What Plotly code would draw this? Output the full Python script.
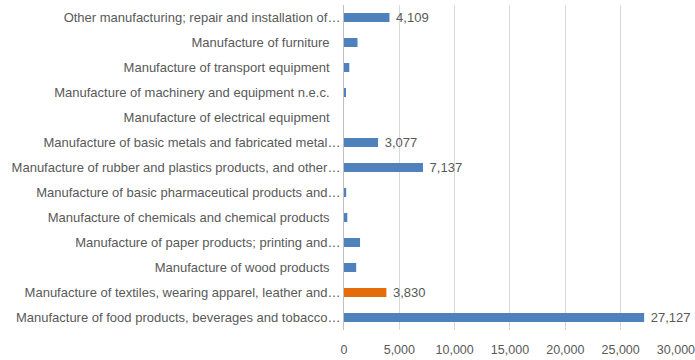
import plotly.graph_objects as go

categories = [
    "Manufacture of food products, beverages and tobacco…",
    "Manufacture of textiles, wearing apparel, leather and…",
    "Manufacture of wood products\u00a0\u00a0\u00a0",
    "Manufacture of paper products; printing and…",
    "Manufacture of chemicals and chemical products\u00a0\u00a0\u00a0",
    "Manufacture of basic pharmaceutical products and…",
    "Manufacture of rubber and plastics products, and other…",
    "Manufacture of basic metals and fabricated metal…",
    "Manufacture of electrical equipment\u00a0\u00a0\u00a0",
    "Manufacture of machinery and equipment n.e.c.\u00a0\u00a0\u00a0",
    "Manufacture of transport equipment\u00a0\u00a0\u00a0",
    "Manufacture of furniture\u00a0\u00a0\u00a0",
    "Other manufacturing; repair and installation of…",
]
values = [27127, 3830, 1100, 1450, 300, 200, 7137, 3077, 0, 180, 480, 1220, 4109]
labeled = [True, True, False, False, False, False, True, True, False, False, False, False, True]
highlight_index = 1

x_ticks = [0, 5000, 10000, 15000, 20000, 25000, 30000]

blue = "#4F81BD"
orange = "#E46C0A"
colors = [orange if i == highlight_index else blue for i in range(len(values))]
texts = ["\u00a0" + f"{v:,}" if show else "" for v, show in zip(values, labeled)]

fig = go.Figure(
    go.Bar(
        y=list(range(len(categories))),
        x=values,
        orientation="h",
        marker=dict(color=colors, line=dict(width=0)),
        text=texts,
        textposition="outside",
        constraintext="none",
        textfont=dict(family="Liberation Sans, Arial", size=13, color="#595959"),
        cliponaxis=False,
        width=0.36,
    )
)

fig.update_layout(
    width=695,
    height=360,
    margin=dict(l=344, r=19, t=5, b=30, autoexpand=False),
    plot_bgcolor="white",
    paper_bgcolor="white",
    showlegend=False,
    font=dict(family="Liberation Sans, Arial", size=13, color="#595959"),
    xaxis=dict(
        range=[0, 30005],
        tickvals=x_ticks,
        tickformat=",d",
        showgrid=True,
        gridcolor="#D9D9D9",
        gridwidth=1,
        zeroline=False,
        showline=False,
        ticks="",
        ticklabeloverflow="allow",
        ticklabelstandoff=10,
        tickfont=dict(size=12.5, color="#595959"),
    ),
    yaxis=dict(
        tickmode="array",
        tickvals=list(range(len(categories))),
        ticktext=categories,
        range=[-0.5, len(categories) - 0.5],
        showgrid=False,
        zeroline=False,
        showline=True,
        linecolor="#BFBFBF",
        linewidth=1,
        ticks="",
        ticklabelstandoff=0,
        tickfont=dict(size=13, color="#595959"),
    ),
)

fig.write_html("out.html")
